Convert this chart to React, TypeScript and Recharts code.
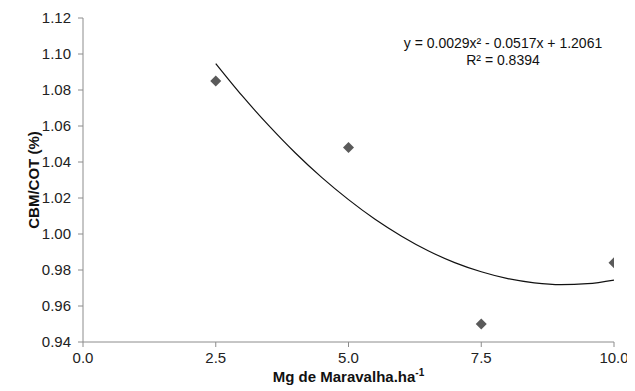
import React from "react";
import {
  ComposedChart,
  Line,
  Scatter,
  XAxis,
  YAxis,
  Label,
} from "recharts";

// Observed points (Mg de Maravalha.ha-1 vs CBM/COT %)
const doses = [2.5, 5.0, 7.5, 10.0];
const ratios = [1.085, 1.048, 0.95, 0.984];

// Trendline values
const trendX = [2.5, 3.0, 3.5, 4.0, 4.5, 5.0, 5.5, 6.0, 6.5, 7.0, 7.5, 8.0, 8.5, 9.0, 9.5, 10.0];
const trendY = [1.0947, 1.0767, 1.0602, 1.045, 1.0313, 1.0191, 1.0082, 0.9988, 0.9907, 0.9841, 0.979, 0.9752, 0.9729, 0.9719, 0.9724, 0.9744];

const xTicks = [0, 2.5, 5, 7.5, 10];
const yTicks = [0.94, 0.96, 0.98, 1.0, 1.02, 1.04, 1.06, 1.08, 1.1, 1.12];

const equationText = "y = 0.0029x² - 0.0517x + 1.2061";
const r2Text = "R² = 0.8394";

const points = doses.map((x, i) => ({ x, y: ratios[i] }));
const trend = trendX.map((x, i) => ({ x, y: trendY[i] }));

const FONT = "Arial, 'Liberation Sans', sans-serif";
const AXIS = "#8c8c8c";

const Diamond = (props: any) => {
  const { cx, cy } = props;
  const r = 5.5;
  return (
    <polygon
      points={`${cx},${cy - r} ${cx + r},${cy} ${cx},${cy + r} ${cx - r},${cy}`}
      fill="#5a5a5a"
    />
  );
};

const XLabel = (props: any) => {
  const vb = props.viewBox || {};
  const cx = vb.x + vb.width / 2;
  const y = vb.y + 40;
  return (
    <text
      x={cx}
      y={y}
      textAnchor="middle"
      fontFamily={FONT}
      fontSize={15}
      fontWeight="bold"
      fill="#111"
    >
      Mg de Maravalha.ha
      <tspan fontSize={10} dy={-6}>-1</tspan>
    </text>
  );
};

const YLabel = (props: any) => {
  const vb = props.viewBox || {};
  const x = 25;
  const y = vb.y + vb.height / 2;
  return (
    <text
      x={x}
      y={y}
      textAnchor="middle"
      fontFamily={FONT}
      fontSize={15}
      fontWeight="bold"
      fill="#111"
      transform={`rotate(-90, ${x}, ${y})`}
      dominantBaseline="central"
    >
      CBM/COT (%)
    </text>
  );
};

const Equation = (props: any) => {
  const vb = props.viewBox || {};
  const cx = 503 - 8;
  return (
    <g fontFamily={FONT} fontSize={14} fill="#111">
      <text x={cx} y={vb.y + 30} textAnchor="middle">{equationText}</text>
      <text x={cx} y={vb.y + 47} textAnchor="middle">{r2Text}</text>
    </g>
  );
};

export default function App() {
  return (
    <ComposedChart
      width={627}
      height={383}
      margin={{ top: 10, right: 21, bottom: 19, left: 15 }}
    >
      <XAxis
        type="number"
        dataKey="x"
        domain={[0, 10]}
        ticks={xTicks}
        tickFormatter={(v: number) => v.toFixed(1)}
        axisLine={{ stroke: AXIS }}
        tickLine={{ stroke: AXIS }}
        tickSize={5}
        tickMargin={5}
        height={30}
        tick={{ fill: "#222", fontSize: 15, fontFamily: FONT }}
        interval={0}
        allowDataOverflow
      >
        <Label content={<XLabel />} />
      </XAxis>
      <YAxis
        type="number"
        dataKey="y"
        width={60}
        domain={[0.94, 1.12]}
        ticks={yTicks}
        tickFormatter={(v: number) => v.toFixed(2)}
        axisLine={{ stroke: AXIS }}
        tickLine={{ stroke: AXIS }}
        tickSize={5}
        tickMargin={7}
        tick={{ fill: "#222", fontSize: 15, fontFamily: FONT }}
        interval={0}
        allowDataOverflow
      >
        <Label content={<YLabel />} />
      </YAxis>
      <Line
        data={trend}
        dataKey="y"
        type="monotone"
        stroke="#111"
        strokeWidth={1.2}
        dot={false}
        activeDot={false}
        isAnimationActive={false}
      />
      <Scatter
        data={points}
        dataKey="y"
        shape={<Diamond />}
        isAnimationActive={false}
      />
      <Label content={<Equation />} />
    </ComposedChart>
  );
}
